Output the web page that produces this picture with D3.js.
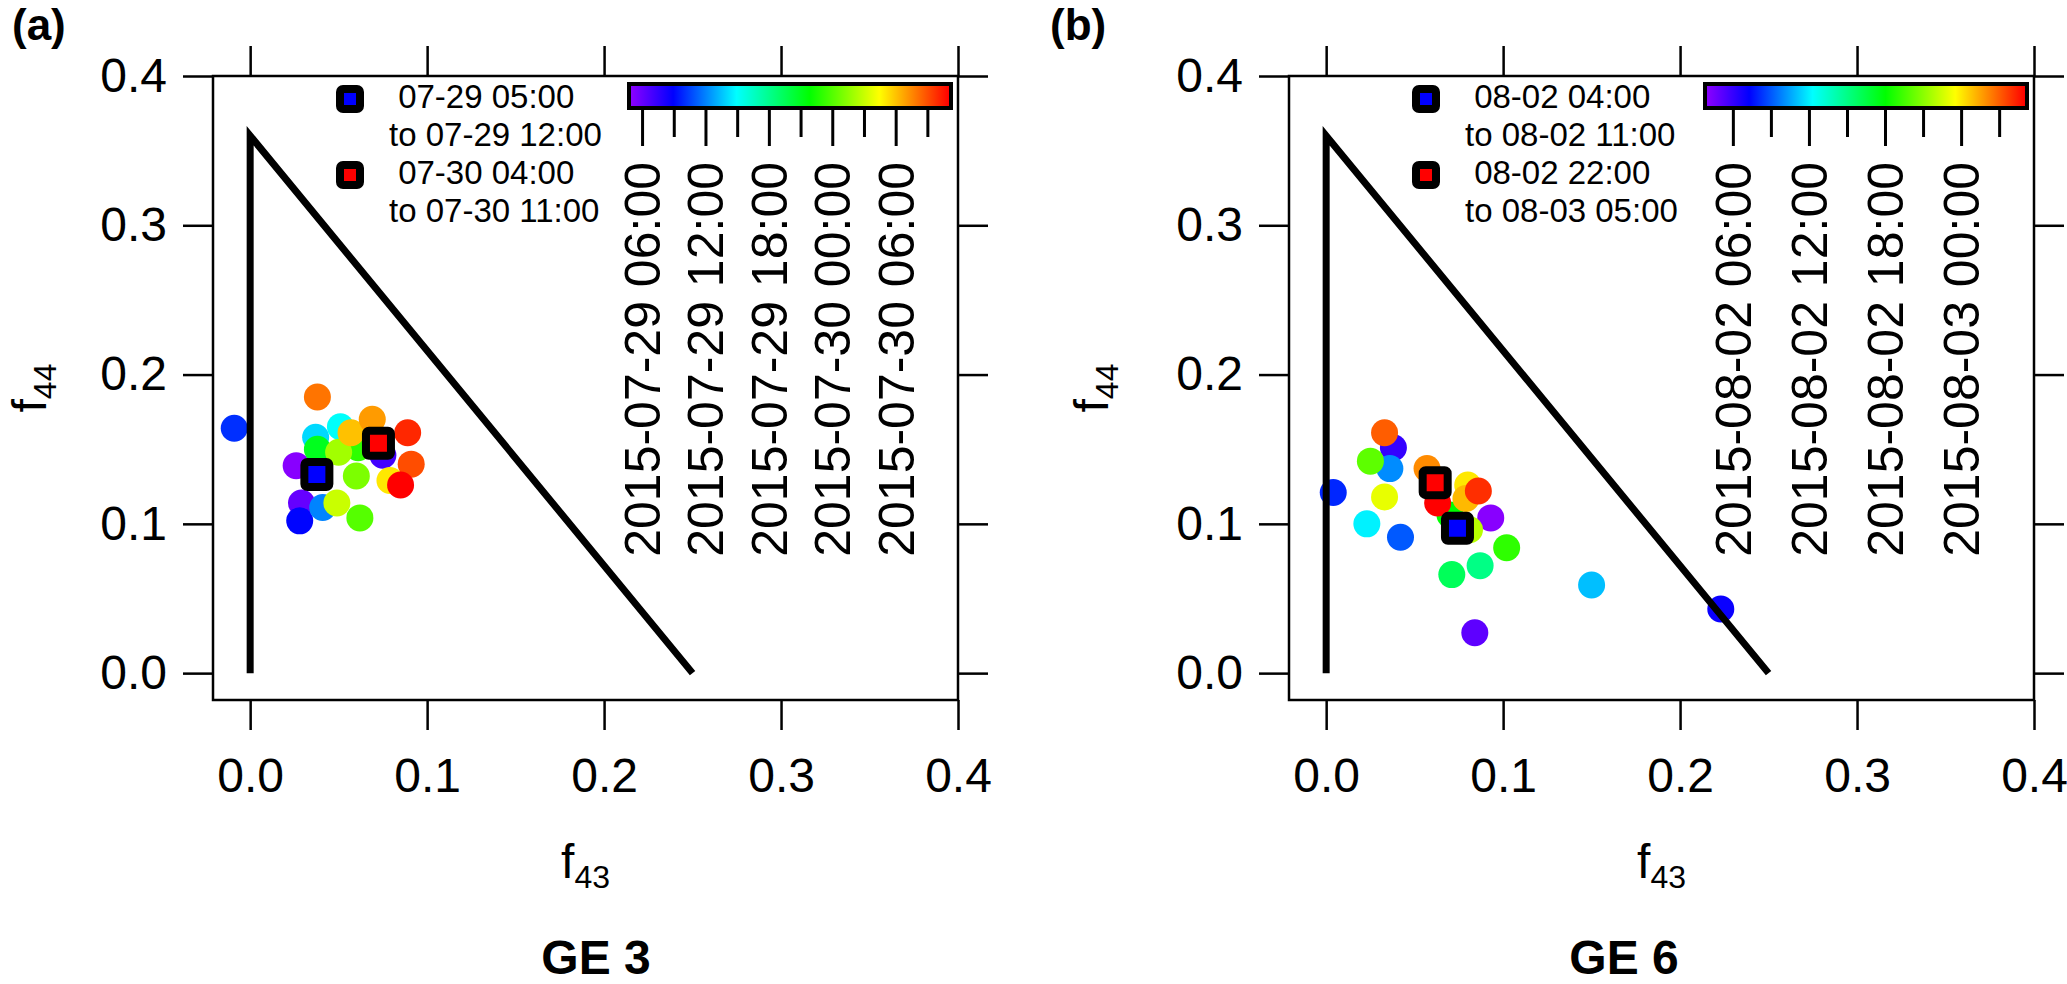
<!DOCTYPE html>
<html>
<head>
<meta charset="utf-8">
<script src="https://cdn.jsdelivr.net/npm/d3@7"></script>
<style>
body { margin: 0; background: #fff; }
text { font-family: "Liberation Sans", Arial, sans-serif; fill: #000; }
</style>
</head>
<body>
<svg id="fig" width="2067" height="984"></svg>
<script>
// Panel (a), GE 3: hourly points, coloured by time
var timesA = ["2015-07-29 05:00", "2015-07-29 06:00", "2015-07-29 07:00", "2015-07-29 09:00",
	"2015-07-29 10:00", "2015-07-29 12:00", "2015-07-29 14:00", "2015-07-29 15:00",
	"2015-07-29 21:00", "2015-07-29 23:00", "2015-07-30 00:00", "2015-07-30 01:00",
	"2015-07-30 02:00", "2015-07-30 03:00", "2015-07-30 05:00", "2015-07-30 06:00",
	"2015-07-30 07:00", "2015-07-30 08:00", "2015-07-30 09:00", "2015-07-30 10:00",
	"2015-07-30 11:00"];
var f43A = [0.026, 0.029, 0.075, 0.028, -0.009, 0.041, 0.037, 0.051, 0.038, 0.061, 0.062,
	0.060, 0.050, 0.049, 0.079, 0.057, 0.069, 0.038, 0.091, 0.089, 0.085];
var f44A = [0.139, 0.114, 0.146, 0.102, 0.164, 0.111, 0.158, 0.165, 0.150, 0.151, 0.104,
	0.132, 0.148, 0.114, 0.129, 0.161, 0.170, 0.185, 0.140, 0.161, 0.126];
var rangeA = ["2015-07-29 05:00", "2015-07-30 11:00"];
// highlighted period means (blue, red)
var sqF43A = [0.0377, 0.0725];
var sqF44A = [0.1331, 0.1540];
var legendA = [["07-29 05:00", "07-29 12:00"], ["07-30 04:00", "07-30 11:00"]];

// Panel (b), GE 6
var timesB = ["2015-08-02 04:00", "2015-08-02 05:00", "2015-08-02 06:00", "2015-08-02 07:00",
	"2015-08-02 08:00", "2015-08-02 09:00", "2015-08-02 10:00", "2015-08-02 11:00",
	"2015-08-02 12:00", "2015-08-02 15:00", "2015-08-02 16:00", "2015-08-02 18:00",
	"2015-08-02 19:00", "2015-08-02 20:00", "2015-08-02 22:00", "2015-08-02 23:00",
	"2015-08-03 00:00", "2015-08-03 01:00", "2015-08-03 02:00", "2015-08-03 03:00",
	"2015-08-03 04:00", "2015-08-03 05:00"];
var f43B = [0.093, 0.084, 0.038, 0.223, 0.004, 0.042, 0.036, 0.150, 0.023, 0.087, 0.071,
	0.070, 0.102, 0.025, 0.081, 0.033, 0.080, 0.079, 0.057, 0.033, 0.086, 0.063];
var f44B = [0.104, 0.027, 0.151, 0.043, 0.121, 0.091, 0.137, 0.059, 0.100, 0.072, 0.066,
	0.106, 0.084, 0.142, 0.096, 0.118, 0.126, 0.117, 0.137, 0.161, 0.122, 0.114];
var rangeB = ["2015-08-02 04:00", "2015-08-03 05:00"];
var sqF43B = [0.0742, 0.0616];
var sqF44B = [0.0970, 0.1276];
var legendB = [["08-02 04:00", "08-02 11:00"], ["08-02 22:00", "08-03 05:00"]];

// triangle guide and axis ticks
var triF43 = [0, 0, 0.25];
var triF44 = [0, 0.36, 0];
var axisTicks = [0, 0.1, 0.2, 0.3, 0.4];
var sqColors = ["#0000ff", "#ff0000"];

// rainbow colour table, purple -> red
var rainbowStops = [0, 0.13, 0.33, 0.56, 0.78, 1];
var rainbowColors = ["#8800ff", "#0000ff", "#00ffff", "#00ff00", "#ffff00", "#ff0000"];

var parse = d3.timeParse("%Y-%m-%d %H:%M");
var fmt = d3.timeFormat("%Y-%m-%d %H:%M");
var FONT = '"Liberation Sans", Arial, sans-serif';

var panels = [
	{tag: "(a)", title: "GE 3", times: timesA, f43: f43A, f44: f44A, range: rangeA,
	 sqF43: sqF43A, sqF44: sqF44A, legend: legendA, left: 213, tagX: 12, titleX: 596, ylabX: 46},
	{tag: "(b)", title: "GE 6", times: timesB, f43: f43B, f44: f44B, range: rangeB,
	 sqF43: sqF43B, sqF44: sqF44B, legend: legendB, left: 1289, tagX: 1050, titleX: 1624, ylabX: 1108}
];

var svg = d3.select("#fig");
var defs = svg.append("defs");
var colorOf = d3.scaleLinear().domain(rainbowStops).range(rainbowColors).interpolate(d3.interpolateRgb);

const plotTop = 76, plotBottom = 700, plotW = 745;

function styleAxis(a) {
	a.select(".domain").remove();
	a.attr("font-size", 48).attr("font-family", FONT);
	a.selectAll(".tick line").attr("stroke-width", 2.5);
}

panels.forEach(function(p, pi) {
	const L = p.left, R = p.left + plotW;
	const x = d3.scaleLinear().domain([-0.021, 0.4]).range([L, R]);
	const y = d3.scaleLinear().domain([-0.018, 0.4]).range([plotBottom, plotTop]);
	const g = svg.append("g");

	// axes: ticks point outward on all four sides, labels on left/bottom
	let ab = g.append("g").attr("transform", `translate(0,${plotBottom})`)
		.call(d3.axisBottom(x).tickValues(axisTicks).tickSize(30).tickPadding(28).tickFormat(d3.format(".1f")));
	styleAxis(ab);
	let al = g.append("g").attr("transform", `translate(${L},0)`)
		.call(d3.axisLeft(y).tickValues(axisTicks).tickSize(30).tickPadding(16).tickFormat(d3.format(".1f")));
	styleAxis(al);
	let at = g.append("g").attr("transform", `translate(0,${plotTop})`)
		.call(d3.axisTop(x).tickValues(axisTicks).tickSize(30).tickFormat(""));
	styleAxis(at);
	let ar = g.append("g").attr("transform", `translate(${R},0)`)
		.call(d3.axisRight(y).tickValues(axisTicks).tickSize(30).tickFormat(""));
	styleAxis(ar);

	g.append("rect")
		.attr("x", L).attr("y", plotTop)
		.attr("width", R - L).attr("height", plotBottom - plotTop)
		.attr("fill", "none").attr("stroke", "#000").attr("stroke-width", 2.5);

	// time -> colour
	const t0 = parse(p.range[0]), t1 = parse(p.range[1]);
	const frac = d3.scaleTime().domain([t0, t1]).range([0, 1]);
	const pts = p.times.map((t, i) => ({t: parse(t), f43: p.f43[i], f44: p.f44[i]}));

	g.append("g").selectAll("circle")
		.data(pts)
		.join("circle")
		.attr("cx", d => x(d.f43))
		.attr("cy", d => y(d.f44))
		.attr("r", 13.5)
		.attr("fill", d => colorOf(frac(d.t)));

	// triangle
	const line = d3.line().x(d => x(d[0])).y(d => y(d[1]));
	g.append("path")
		.attr("d", line(triF43.map((v, i) => [v, triF44[i]])))
		.attr("fill", "none").attr("stroke", "#000")
		.attr("stroke-width", 7).attr("stroke-linejoin", "miter");

	// highlighted means
	g.append("g").selectAll("rect")
		.data(p.sqF43.map((v, i) => ({f43: v, f44: p.sqF44[i], c: sqColors[i]})))
		.join("rect")
		.attr("x", d => x(d.f43) - 12.5)
		.attr("y", d => y(d.f44) - 12.5)
		.attr("width", 25).attr("height", 25).attr("rx", 3)
		.attr("fill", d => d.c).attr("stroke", "#000").attr("stroke-width", 8);

	// legend
	const leg = g.append("g");
	p.legend.forEach(function(pair, i) {
		const base = 108 + i * 76;
		leg.append("rect")
			.attr("x", L + 137 - 10).attr("y", base - 9 - 10)
			.attr("width", 20).attr("height", 20).attr("rx", 3)
			.attr("fill", sqColors[i]).attr("stroke", "#000").attr("stroke-width", 8);
		leg.append("text").attr("x", L + 176).attr("y", base)
			.attr("font-size", 33).style("white-space", "pre").text(" " + pair[0]);
		leg.append("text").attr("x", L + 176).attr("y", base + 38)
			.attr("font-size", 33).style("white-space", "pre").text("to " + pair[1]);
	});

	// colour bar
	const cb = d3.scaleTime().domain([t0, t1]).range([R - 326, R - 9]);
	const gid = "rainbow" + pi;
	const grad = defs.append("linearGradient").attr("id", gid)
		.attr("gradientUnits", "userSpaceOnUse")
		.attr("x1", cb(t0)).attr("x2", cb(t1)).attr("y1", 0).attr("y2", 0);
	grad.selectAll("stop").data(rainbowStops).join("stop")
		.attr("offset", d => d)
		.attr("stop-color", (d, i) => rainbowColors[i]);
	g.append("rect")
		.attr("x", R - 329).attr("y", 84).attr("width", 322).attr("height", 24)
		.attr("fill", `url(#${gid})`).attr("stroke", "#000").attr("stroke-width", 4);

	const cbTicks = d3.timeHour.every(3).range(t0, new Date(+t1 + 1));
	g.append("g").selectAll("line")
		.data(cbTicks)
		.join("line")
		.attr("x1", d => cb(d)).attr("x2", d => cb(d))
		.attr("y1", 110)
		.attr("y2", d => d.getHours() % 6 == 0 ? 146 : 137)
		.attr("stroke", "#000").attr("stroke-width", 3);
	g.append("g").selectAll("text")
		.data(cbTicks.filter(d => d.getHours() % 6 == 0))
		.join("text")
		.attr("transform", d => `translate(${cb(d)},162) rotate(-90)`)
		.attr("text-anchor", "end").attr("dy", "0.35em")
		.attr("font-size", 50)
		.text(d => fmt(d));

	// axis titles
	const xl = g.append("text").attr("x", (L + R) / 2).attr("y", 878)
		.attr("text-anchor", "middle").attr("font-size", 48);
	xl.append("tspan").text("f");
	xl.append("tspan").attr("font-size", 32).attr("dy", 10).text("43");

	const yl = g.append("text")
		.attr("transform", `translate(${p.ylabX},${(plotTop + plotBottom) / 2}) rotate(-90)`)
		.attr("text-anchor", "middle").attr("font-size", 48);
	yl.append("tspan").text("f");
	yl.append("tspan").attr("font-size", 32).attr("dy", 10).text("44");

	g.append("text").attr("x", p.tagX).attr("y", 40)
		.attr("font-size", 44).attr("font-weight", "bold").text(p.tag);
	g.append("text").attr("x", p.titleX).attr("y", 974)
		.attr("text-anchor", "middle").attr("font-size", 48).attr("font-weight", "bold")
		.text(p.title);
});
</script>
</body>
</html>
